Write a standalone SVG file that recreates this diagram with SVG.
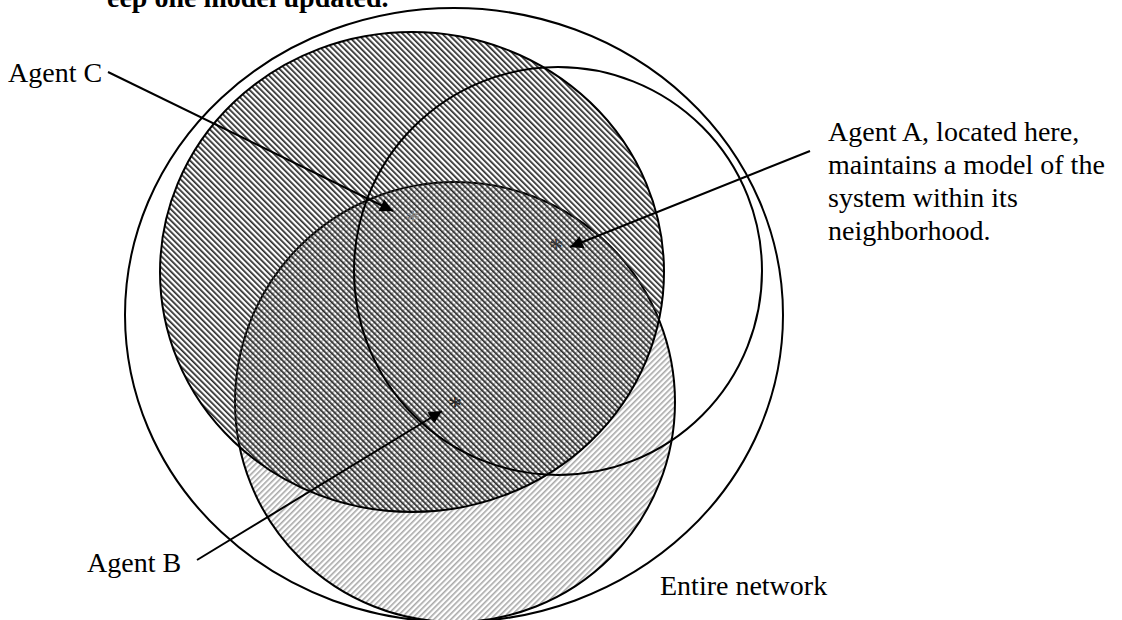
<svg xmlns="http://www.w3.org/2000/svg" width="1122" height="620" viewBox="0 0 1122 620">
  <style>
    .lbl { font-family: "Liberation Serif", "Times New Roman", serif; font-size: 28px; fill: #000; }
    .ttl { font-family: "Liberation Serif", "Times New Roman", serif; font-size: 28px; font-weight: bold; fill: #000; }
    .ring { fill: none; stroke: #000; stroke-width: 2; }
    .edge { stroke: #000; stroke-width: 2; fill: none; }
    .star { font-family: "Liberation Serif", "Times New Roman", serif; font-size: 28px; text-anchor: middle; }
  </style>
  <defs>
    <pattern id="hatchDark" patternUnits="userSpaceOnUse" width="4" height="4" patternTransform="rotate(-45)">
      <rect x="0" y="0" width="1.7" height="4" fill="#2a2a2a"/>
    </pattern>
    <pattern id="hatchLight" patternUnits="userSpaceOnUse" width="4" height="4" patternTransform="rotate(45)">
      <rect x="0" y="0" width="1.6" height="4" fill="#a8a8a8"/>
    </pattern>
    <marker id="arrow" viewBox="0 0 10 10" refX="10" refY="5" markerWidth="8" markerHeight="6.5" orient="auto" markerUnits="strokeWidth">
      <path d="M0,0 L10,5 L0,10 Z" fill="#000"/>
    </marker>
  </defs>

  <text class="ttl" x="107" y="7">eep one model updated.</text>

  <g id="entire-network">
    <ellipse class="ring" cx="454" cy="315" rx="329" ry="307"/>
    <text class="lbl" x="660" y="595">Entire network</text>
  </g>

  <g id="neighborhood-B">
    <circle cx="455" cy="402" r="220" fill="url(#hatchLight)" stroke="#000" stroke-width="2"/>
  </g>

  <g id="neighborhood-C">
    <ellipse cx="412" cy="272" rx="252" ry="240" fill="url(#hatchDark)" stroke="#000" stroke-width="2"/>
  </g>

  <g id="neighborhood-A">
    <circle class="ring" cx="558" cy="271" r="204"/>
  </g>

  <g id="connectors">
    <line class="edge" x1="108" y1="72" x2="393" y2="211" marker-end="url(#arrow)"/>
    <line class="edge" x1="810" y1="151" x2="570" y2="247" marker-end="url(#arrow)"/>
    <line class="edge" x1="197" y1="560" x2="442" y2="411" marker-end="url(#arrow)"/>
  </g>

  <g id="agent-C">
    <text class="star" x="413" y="229" fill="#888">*</text>
    <text class="lbl" x="8" y="82">Agent C</text>
  </g>

  <g id="agent-A">
    <text class="star" x="556" y="257" fill="#333">*</text>
    <text class="lbl" x="828">
      <tspan x="828" y="141">Agent A, located here,</tspan>
      <tspan x="828" y="174">maintains a model of the</tspan>
      <tspan x="828" y="207">system within its</tspan>
      <tspan x="828" y="240">neighborhood.</tspan>
    </text>
  </g>

  <g id="agent-B">
    <text class="star" x="455" y="415" fill="#222">*</text>
    <text class="lbl" x="87" y="572">Agent B</text>
  </g>
</svg>
